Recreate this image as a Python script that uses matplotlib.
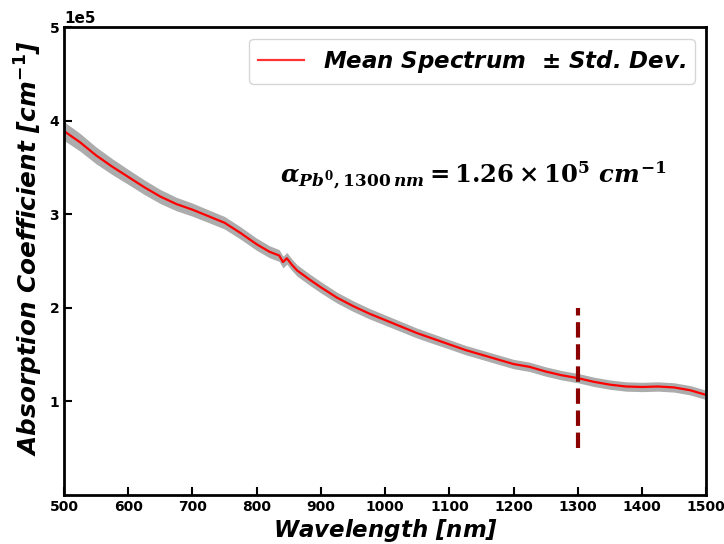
import numpy as np
import matplotlib
matplotlib.use("Agg")
import matplotlib.pyplot as plt

# Mean absorption spectrum (values in 1e5 cm^-1)
wavelength = [500, 525, 550, 575, 600, 625, 650, 675, 700, 725, 750, 775, 800,
              820, 835, 841, 847, 855, 863, 883, 900, 925, 950, 975, 1000,
              1025, 1050, 1075, 1100, 1125, 1150, 1175, 1200, 1225, 1250,
              1275, 1300, 1325, 1350, 1375, 1400, 1425, 1450, 1475, 1500]
mean_abs = [3.89, 3.77, 3.63, 3.51, 3.40, 3.29, 3.19, 3.11, 3.05, 2.98, 2.91,
            2.80, 2.68, 2.60, 2.56, 2.49, 2.53, 2.46, 2.40, 2.30, 2.22, 2.11,
            2.02, 1.94, 1.87, 1.80, 1.73, 1.67, 1.61, 1.55, 1.50, 1.45, 1.40,
            1.37, 1.32, 1.28, 1.25, 1.21, 1.18, 1.16, 1.155, 1.16, 1.15, 1.12,
            1.07]
std_abs = [0.10, 0.095, 0.09, 0.085, 0.08, 0.078, 0.075, 0.072, 0.07, 0.068,
           0.067, 0.066, 0.065, 0.064, 0.063, 0.063, 0.062, 0.062, 0.061, 0.06,
           0.06, 0.058, 0.057, 0.056, 0.055, 0.054, 0.053, 0.052, 0.05, 0.05,
           0.05, 0.05, 0.05, 0.05, 0.05, 0.05, 0.05, 0.05, 0.05, 0.05, 0.05,
           0.05, 0.05, 0.05, 0.05]
SCALE = 1e5
MARK_WL = 1300
MARK_RANGE = [0.5, 2.0]

# serif bold math only for the annotation (math_fontfamily='custom')
plt.rcParams['mathtext.fontset'] = 'custom'
plt.rcParams['mathtext.rm'] = 'DejaVu Serif:bold'
plt.rcParams['mathtext.it'] = 'DejaVu Serif:bold:italic'
plt.rcParams['mathtext.bf'] = 'DejaVu Serif:bold'

wl = np.array(wavelength)
mu = np.array(mean_abs) * SCALE
sd = np.array(std_abs) * SCALE

fig = plt.figure(figsize=(7.24, 5.44), dpi=100)
ax = fig.add_axes([0.0884, 0.090, 0.887, 0.860])

ax.fill_between(wl, mu - sd, mu + sd, color='gray', alpha=0.65, linewidth=0)
ax.plot(wl, mu, color='red', linewidth=1.6, label=r'Mean Spectrum  $\pm$ Std. Dev.')
ax.vlines(MARK_WL, MARK_RANGE[0] * SCALE, MARK_RANGE[1] * SCALE,
          colors='#8b0000', linestyles='--', linewidth=3)

ax.text(1137, 3.42 * SCALE,
        r'$\alpha_{Pb^0,1300\,nm} = 1.26 \times 10^5\ cm^{-1}$',
        fontsize=17.5, ha='center', va='center', math_fontfamily='custom')

ax.set_xlim(500, 1500)
ax.set_ylim(0, 5 * SCALE)
ax.set_xticks(range(500, 1501, 100))
ax.set_yticks([1e5, 2e5, 3e5, 4e5, 5e5])
ax.ticklabel_format(axis='y', style='sci', scilimits=(0, 0))
ax.tick_params(direction='in', length=6, width=1.5, labelsize=10)
for lbl in ax.get_xticklabels() + ax.get_yticklabels():
    lbl.set_fontweight('bold')
ax.yaxis.get_offset_text().set_fontweight('bold')
ax.yaxis.get_offset_text().set_fontsize(11)
for s in ax.spines.values():
    s.set_linewidth(2)

ax.set_xlabel(r'Wavelength [$\mathbfit{nm}$]', fontsize=16.5, fontweight='bold',
              style='italic', labelpad=2, math_fontfamily='dejavusans')
ax.set_ylabel(r'Absorption Coefficient [$\mathbfit{cm}^{\mathbf{-1}}$]', fontsize=17.8,
              fontweight='bold', style='italic', math_fontfamily='dejavusans')
ax.yaxis.set_label_coords(-0.03, 0.528)

leg = ax.legend(loc='upper right', prop={'size': 16.5, 'weight': 'bold', 'style': 'italic'})
leg.get_lines()[0].set_alpha(0.8)

fig.savefig('out.png', dpi=100)
